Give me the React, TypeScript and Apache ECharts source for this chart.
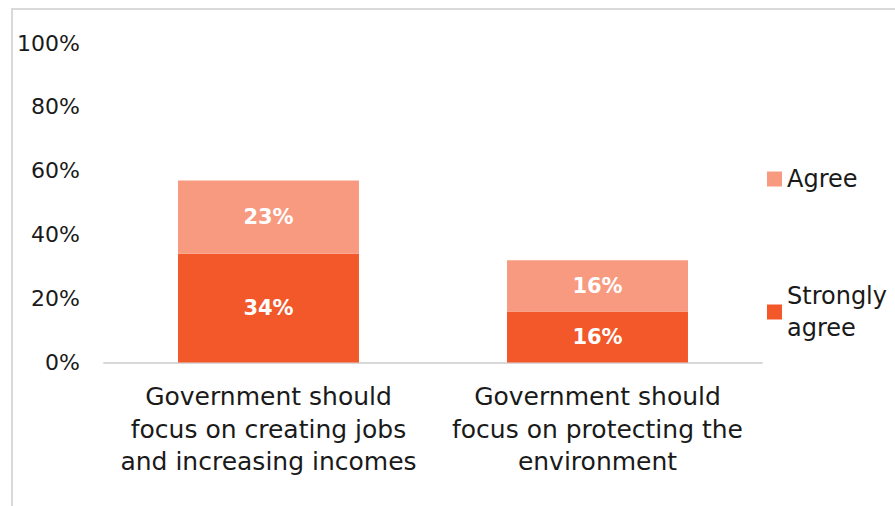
import React, { useEffect, useRef } from "react";
import * as echarts from "echarts";

const categories = [
  "Government should\nfocus on creating jobs\nand increasing incomes",
  "Government should\nfocus on protecting the\nenvironment",
];
const stronglyAgree = [34, 16];
const agree = [23, 16];
const yTicks = [0, 20, 40, 60, 80, 100];

const FONT = "DejaVu Sans";

export default function App() {
  const ref = useRef<HTMLDivElement>(null);
  useEffect(() => {
    if (!ref.current) return;
    const chart = echarts.init(ref.current, undefined, { renderer: "svg" });
    const labelStyle = {
      show: true,
      position: "inside",
      color: "#ffffff",
      fontFamily: FONT,
      fontWeight: "bold",
      fontSize: 21,
      formatter: (p: any) => p.value + "%",
    };
    chart.setOption({
      animation: false,
      backgroundColor: "#ffffff",
      graphic: [
        {
          type: "rect",
          shape: { x: 12, y: 9, width: 1000, height: 1000 },
          style: { fill: "none", stroke: "#d9d9d9", lineWidth: 2 },
          silent: true,
        },
      ],
      grid: { left: 104, right: 133, top: 43, bottom: 143.5 },
      legend: [
        {
          data: ["Agree"],
          orient: "vertical",
          left: 762,
          top: 162,
          itemWidth: 15,
          itemHeight: 15,
          itemGap: 7,
          icon: "rect",
          textStyle: { fontFamily: FONT, fontSize: 24, color: "#1a1a1a" },
        },
        {
          data: ["Strongly agree"],
          orient: "vertical",
          left: 762,
          top: 259,
          itemWidth: 15,
          itemHeight: 15,
          icon: "rect",
          formatter: () => "Strongly\nagree",
          textStyle: {
            fontFamily: FONT,
            fontSize: 24,
            lineHeight: 32,
            color: "#1a1a1a",
            padding: [32, 0, 0, 0],
          },
        },
      ],
      xAxis: {
        type: "category",
        data: categories,
        axisLine: { lineStyle: { color: "#d9d9d9", width: 2 } },
        axisTick: { show: false },
        axisLabel: {
          interval: 0,
          margin: 18,
          fontFamily: FONT,
          fontSize: 25,
          lineHeight: 32.5,
          color: "#1a1a1a",
        },
      },
      yAxis: {
        type: "value",
        min: 0,
        max: 100,
        interval: 20,
        splitLine: { show: false },
        axisLine: { show: false },
        axisTick: { show: false },
        axisLabel: {
          margin: 24,
          fontFamily: FONT,
          fontSize: 22,
          color: "#1a1a1a",
          formatter: (v: number) => (yTicks.includes(v) ? v + "%" : ""),
        },
      },
      series: [
        {
          name: "Strongly agree",
          type: "bar",
          stack: "total",
          barWidth: "55%",
          data: stronglyAgree,
          itemStyle: { color: "#f2582a" },
          label: labelStyle,
        },
        {
          name: "Agree",
          type: "bar",
          stack: "total",
          barWidth: "55%",
          data: agree,
          itemStyle: { color: "#f79a80" },
          label: labelStyle,
        },
      ],
    });
    return () => chart.dispose();
  }, []);
  return (
    <div
      ref={ref}
      style={{ position: "absolute", left: 0, top: 0, width: 895, height: 506 }}
    />
  );
}
